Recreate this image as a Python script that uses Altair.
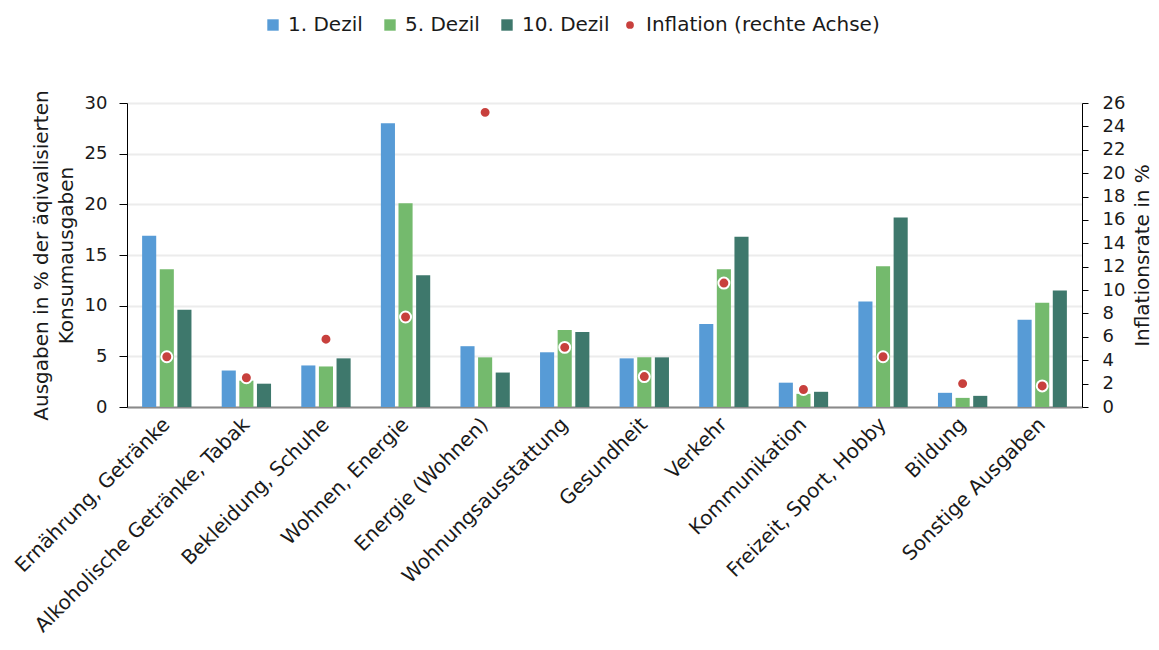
import altair as alt
import pandas as pd

categories = [
    "Ernährung, Getränke",
    "Alkoholische Getränke, Tabak",
    "Bekleidung, Schuhe",
    "Wohnen, Energie",
    "Energie (Wohnen)",
    "Wohnungsausstattung",
    "Gesundheit",
    "Verkehr",
    "Kommunikation",
    "Freizeit, Sport, Hobby",
    "Bildung",
    "Sonstige Ausgaben",
]
dezil_1 = [16.9, 3.6, 4.1, 28.0, 6.0, 5.4, 4.8, 8.2, 2.4, 10.4, 1.4, 8.6]
dezil_5 = [13.6, 2.6, 4.0, 20.1, 4.9, 7.6, 4.9, 13.6, 1.3, 13.9, 0.9, 10.3]
dezil_10 = [9.6, 2.3, 4.8, 13.0, 3.4, 7.4, 4.9, 16.8, 1.5, 18.7, 1.1, 11.5]
inflation = [4.3, 2.5, 5.8, 7.7, 25.2, 5.1, 2.6, 10.6, 1.5, 4.3, 2.0, 1.8]

series_names = ["1. Dezil", "5. Dezil", "10. Dezil"]
bar_colors = ["#579BD6", "#74BA6D", "#3E786C"]
infl_name = "Inflation (rechte Achse)"
infl_color = "#C8403D"

rows = []
for name, vals in zip(series_names, [dezil_1, dezil_5, dezil_10]):
    for c, v in zip(categories, vals):
        rows.append({"Kategorie": c, "Serie": name, "Wert": v})
bars_df = pd.DataFrame(rows)
infl_df = pd.DataFrame({"Kategorie": categories, "Inflation": inflation, "Serie": [infl_name] * len(categories)})

FONT = "DejaVu Sans"
TXT = "#1a1a1a"

x_axis = alt.Axis(
    title=None, labelAngle=315, labelAlign="right", labelBaseline="middle",
    labelFontSize=20, labelPadding=14, labelLimit=400, ticks=False,
    domainColor="#8a8a8a", domainWidth=2, labelColor=TXT, labelFont=FONT,
)

bars = alt.Chart(bars_df).mark_bar().encode(
    x=alt.X("Kategorie:N", sort=categories,
            scale=alt.Scale(paddingInner=0.38, paddingOuter=0.19), axis=x_axis),
    xOffset=alt.XOffset("Serie:N", sort=series_names,
                        scale=alt.Scale(paddingInner=0.2, paddingOuter=0)),
    y=alt.Y("Wert:Q", scale=alt.Scale(domain=[0, 30], nice=False),
            axis=alt.Axis(
                values=[0, 5, 10, 15, 20, 25, 30],
                title=["Ausgaben in % der äqivalisierten", "Konsumausgaben"],
                titleFontSize=20, titleFontWeight="normal", titleColor=TXT,
                titleFont=FONT, titleLineHeight=25, titlePadding=8,
                labelFontSize=18, labelColor=TXT, labelFont=FONT,
                tickSize=8, labelPadding=12, tickColor="#000", domainColor="#000",
                gridColor="#ececec", gridWidth=2,
            )),
    color=alt.Color("Serie:N", sort=series_names,
                    scale=alt.Scale(domain=series_names, range=bar_colors),
                    legend=alt.Legend(
                        title=None, orient="none", legendX=136, legendY=-88,
                        direction="horizontal", columns=3, gridAlign="all",
                        columnPadding=4, symbolType="square", symbolSize=130,
                        symbolStrokeWidth=0, labelFontSize=20, labelOffset=5,
                        labelLimit=400, labelFont=FONT, labelColor=TXT, padding=0,
                    )),
)

dots = alt.Chart(infl_df).mark_point(
    filled=True, size=120, opacity=1, fill=infl_color, stroke="white", strokeWidth=2
).encode(
    x=alt.X("Kategorie:N", sort=categories),
    y=alt.Y("Inflation:Q", scale=alt.Scale(domain=[0, 26], nice=False),
            axis=alt.Axis(
                orient="right", values=list(range(0, 27, 2)),
                title="Inflationsrate in %", titleAngle=270, titleBaseline="top",
                titleFontSize=20, titleFontWeight="normal", titleColor=TXT,
                titleFont=FONT, titlePadding=8,
                labelFontSize=18, labelColor=TXT, labelFont=FONT,
                tickSize=6, labelPadding=14, tickColor="#000", domainColor="#000",
                grid=False,
            )),
    shape=alt.Shape("Serie:N", scale=alt.Scale(domain=[infl_name], range=["circle"]),
                    legend=alt.Legend(
                        title=None, orient="none", legendX=493, legendY=-88,
                        symbolSize=60, symbolFillColor=infl_color,
                        symbolStrokeWidth=0, labelFontSize=20, labelOffset=6,
                        labelLimit=400, labelFont=FONT, labelColor=TXT, padding=0,
                    )),
)

chart = alt.layer(bars, dots).resolve_scale(y="independent").properties(
    width=955, height=304,
    autosize=alt.AutoSizeParams(type="none"),
    padding={"left": 127, "top": 103, "right": 77, "bottom": 243},
).configure(font=FONT).configure_view(stroke=None)

chart.save("out.html", embed_options={"renderer": "svg", "actions": False})
